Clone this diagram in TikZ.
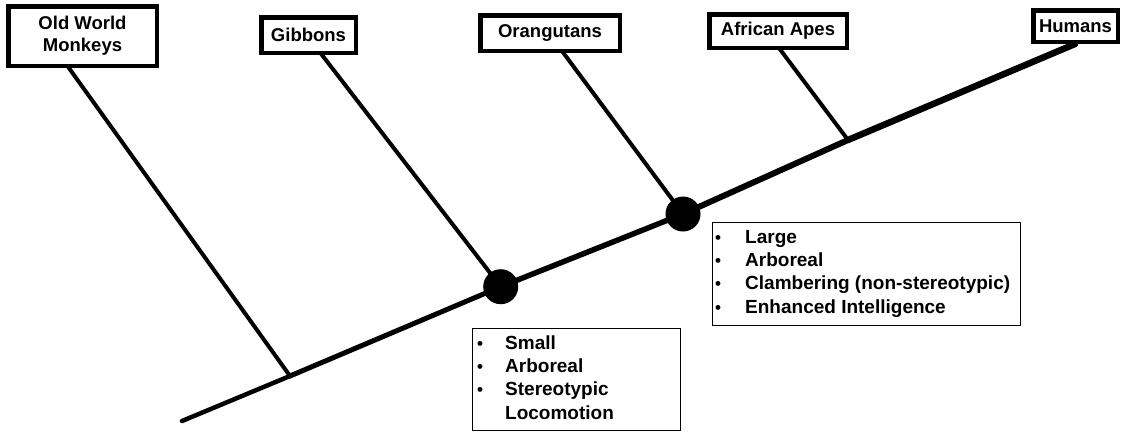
\documentclass[tikz,border=0pt]{standalone}
\usepackage{fontspec}
\setmainfont{Liberation Sans}
\usetikzlibrary{positioning}
\tikzset{
  x=1pt, y=-1pt,
  label box/.style={draw, line width=4.5pt, fill=white, inner sep=0pt,
    font=\fontsize{18.5}{22}\selectfont\bfseries, align=center},
  list box/.style={draw, line width=0.9pt, anchor=north west, inner sep=0pt},
  list text/.style={anchor=west, inner sep=0pt, font=\fontsize{19}{23.3}\selectfont\bfseries},
  branch/.style={line width=4pt, line cap=round},
  trunk/.style={line cap=round},
  dot/.style={circle, fill=black, inner sep=0pt, minimum size=35pt},
}
\newcommand{\bul}{{\fontsize{17}{17}\selectfont\textbullet}}
\begin{document}
\begin{tikzpicture}
\useasboundingbox (0,0) rectangle (1126,432);
% label boxes
\node[label box, minimum width=148.5pt, minimum height=59.5pt] (owm) at (82.5,36) {Old World\\Monkeys};
\node[label box, minimum width=94.5pt, minimum height=35.5pt] (gib) at (308.5,35) {Gibbons};
\node[label box, minimum width=139.5pt, minimum height=35.5pt] (ora) at (550,33) {Orangutans};
\node[label box, minimum width=137.5pt, minimum height=33.5pt] (afr) at (778,31) {African Apes};
\node[label box, minimum width=84.5pt, minimum height=31.5pt] (hum) at (1075.5,26) {Humans};
% junction points on the trunk
\coordinate (root) at (182,421);
\coordinate (c1) at (290,376);
\coordinate (d1) at (500.7,286.7);
\coordinate (d2) at (683,214);
\coordinate (c4) at (848,140);
\coordinate (top) at (1075,44);
% trunk
\draw[trunk, line width=4.5pt] (root) -- (c1);
\draw[trunk, line width=5pt] (c1) -- (d1);
\draw[trunk, line width=5.5pt] (d1) -- (d2);
\draw[trunk, line width=6pt] (d2) -- (c4);
\draw[trunk, line width=6.5pt] (c4) -- (top);
% branches
\draw[branch] ([xshift=-15pt,yshift=2pt]owm.south) -- (c1);
\draw[branch] ([xshift=12pt,yshift=2pt]gib.south) -- (d1);
\draw[branch] ([xshift=12pt,yshift=2pt]ora.south) -- (d2);
\draw[branch] ([xshift=1pt,yshift=2pt]afr.south) -- (c4);
% dots
\node[dot] (n1) at (d1) {};
\node[dot] (n2) at (d2) {};
% trait boxes
\node[list box, minimum width=208pt, minimum height=102pt] (l1) at (472,328) {};
\node[list text] (t1) at (477,379.5)
{\begin{tabular}{@{}p{28pt}@{}l@{}}
\bul & Small\\
\bul & Arboreal\\
\bul & Stereotypic\\
 & Locomotion
\end{tabular}};
\node[list box, minimum width=308pt, minimum height=103pt] (l2) at (712,222) {};
\node[list text] (t2) at (715,273.5)
{\begin{tabular}{@{}p{30pt}@{}l@{}}
\bul & Large\\
\bul & Arboreal\\
\bul & Clambering (non-stereotypic)\\
\bul & Enhanced Intelligence
\end{tabular}};
\end{tikzpicture}
\end{document}
